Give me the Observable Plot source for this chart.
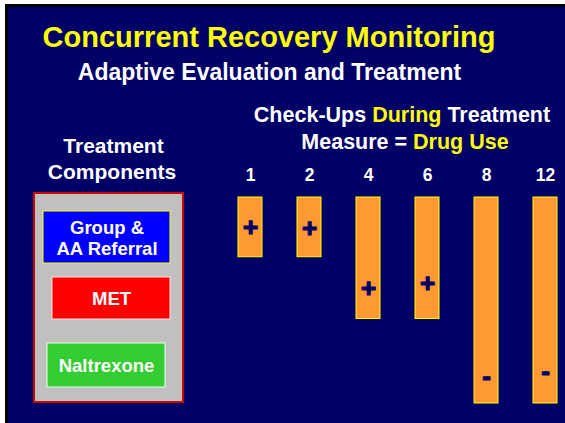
<!DOCTYPE html>
<html>
<head>
<meta charset="utf-8">
<script src="https://cdn.jsdelivr.net/npm/d3@7"></script>
<script src="https://cdn.jsdelivr.net/npm/@observablehq/plot@0.6"></script>
<style>
html, body { margin: 0; padding: 0; background: #ffffff; }
#wrap { position: relative; width: 565px; height: 423px; overflow: hidden; font-family: "Liberation Sans", Arial, sans-serif; }
#shadow { position: absolute; left: 5px; top: 4px; width: 560px; height: 419px; background: #000000; }
#slide { position: absolute; left: 8px; top: 7px; width: 557px; height: 416px; background: #000066; }
#main { position: absolute; left: 0; top: 0; }
#comp { position: absolute; left: 33px; top: 192px; }
</style>
</head>
<body>
<div id="wrap">
  <div id="shadow"></div>
  <div id="slide"></div>
  <div id="main"></div>
  <div id="comp"></div>
</div>
<script>
// ---- data ----
const checkups = ["1", "2", "4", "6", "8", "12"];            // check-up (week) labels
const spans    = [0.29, 0.29, 0.59, 0.59, 1, 1];            // relative bar length
const signs    = ["+", "+", "+", "+", "-", "-"];            // drug-use outcome
const signPos  = [0.146, 0.15, 0.442, 0.417, 0.869, 0.845]; // where sign sits along bar
const components = ["Group &\nAA Referral", "MET", "Naltrexone"];

const rows = checkups.map((c, i) => ({week: c, span: spans[i], sign: signs[i], signY: signPos[i]}));

const FONT = '"Liberation Sans", Arial, sans-serif';

// ---- main chart ----
const main = Plot.plot({
  width: 565,
  height: 423,
  margin: 0,
  style: {background: "transparent", fontFamily: FONT, overflow: "visible"},
  x: {type: "band", domain: checkups, range: [235, 559], paddingInner: 0.6, paddingOuter: 0, axis: null},
  y: {domain: [0, 1], range: [197, 403], axis: null},
  marks: [
    Plot.barY(rows, {x: "week", y1: 0, y2: "span", fill: "#ff9933", stroke: "#ffff00", strokeWidth: 1}),
    Plot.text(rows, {x: "week", y: "signY", text: "sign", fill: "#000066", stroke: "#000066", strokeWidth: 1.2,
      fontSize: 26, fontWeight: "bold", lineAnchor: "middle"}),
    Plot.text(checkups, {x: d => d, text: d => d, frameAnchor: "top", dy: 180, lineAnchor: "bottom",
      fill: "#ffffff", fontSize: 17.5, fontWeight: "bold"})
  ]
});
document.getElementById("main").appendChild(main);

// titles / headings as real SVG text
const svg = d3.select(main);
function addText(x, y, size, parts) {
  const t = svg.append("text")
    .attr("x", x).attr("y", y)
    .attr("text-anchor", "middle")
    .attr("font-family", FONT)
    .attr("font-weight", "bold")
    .attr("font-size", size);
  parts.forEach(([s, c]) => t.append("tspan").attr("fill", c).text(s));
}
addText(269, 47, 29, [["Concurrent Recovery Monitoring", "#ffff00"]]);
addText(269.5, 80, 23, [["Adaptive Evaluation and Treatment", "#ffffff"]]);
addText(402, 122, 21.5, [["Check-Ups ", "#ffffff"], ["During", "#ffff00"], [" Treatment", "#ffffff"]]);
addText(405, 149, 21.5, [["Measure = ", "#ffffff"], ["Drug Use", "#ffff00"]]);
addText(113.5, 153, 21, [["Treatment", "#ffffff"]]);
addText(112, 179, 21, [["Components", "#ffffff"]]);

// ---- treatment components panel ----
// per-box styling (kept out of the data arrays)
const boxStyle = {
  "Group &\nAA Referral": {stroke: "#ffff00", insetTop: 0, insetBottom: 0, insetLeft: 0, insetRight: 0, dx: 0, dy: 0},
  "MET":                  {stroke: "#ffdddd", insetTop: 2, insetBottom: 8, insetLeft: 9, insetRight: 0, dx: 4.5, dy: -3},
  "Naltrexone":           {stroke: "#eeffee", insetTop: 4, insetBottom: 4, insetLeft: 4, insetRight: 5, dx: -0.5, dy: 0}
};
const compMarks = components.flatMap(c => {
  const s = boxStyle[c];
  return [
    Plot.barX([c], {y: d => d, x1: 0, x2: 1, fill: d => d, stroke: s.stroke, strokeWidth: 1,
      insetTop: s.insetTop, insetBottom: s.insetBottom, insetLeft: s.insetLeft, insetRight: s.insetRight}),
    Plot.text([c], {y: d => d, x: 0.5, text: d => d, fill: "#ffffff", fontSize: 18.5, fontWeight: "bold",
      lineHeight: 1.15, lineAnchor: "middle", dx: s.dx, dy: s.dy})
  ];
});
const comp = Plot.plot({
  width: 147,
  height: 207,
  margin: 0,
  style: {background: "#c0c0c0", border: "2px solid #cc0000", fontFamily: FONT, overflow: "visible"},
  x: {domain: [0, 1], range: [8, 135], axis: null},
  y: {type: "band", domain: components, range: [17, 197], paddingInner: 0.1875, paddingOuter: 0, axis: null},
  color: {domain: components, range: ["#0000ff", "#ff0000", "#33cc33"]},
  marks: compMarks
});
document.getElementById("comp").appendChild(comp);
</script>
</body>
</html>
